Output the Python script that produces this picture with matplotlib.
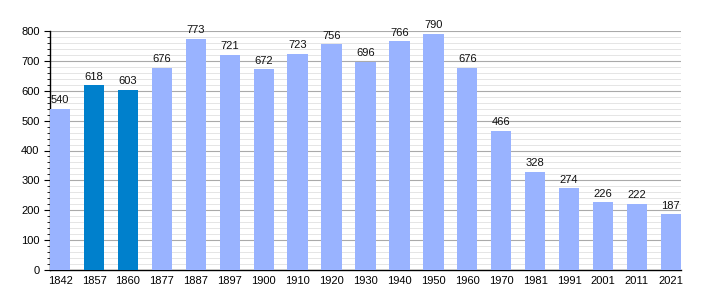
import matplotlib
matplotlib.use("Agg")
import matplotlib.pyplot as plt
from matplotlib.ticker import MultipleLocator

years = ["1842", "1857", "1860", "1877", "1887", "1897", "1900", "1910", "1920", "1930",
         "1940", "1950", "1960", "1970", "1981", "1991", "2001", "2011", "2021"]
population = [540, 618, 603, 676, 773, 721, 672, 723, 756, 696,
              766, 790, 676, 466, 328, 274, 226, 222, 187]
highlight = ["1857", "1860"]

light = "#99b3ff"
dark = "#0080cc"

plt.rcParams['font.family'] = ['Liberation Sans', 'DejaVu Sans']
fig = plt.figure(figsize=(7.1, 3.0), dpi=100)
ax = fig.add_axes([50/710, 30/300, 631/710, 239/300])

x = list(range(len(years)))
colors = [dark if y in highlight else light for y in years]
bars = ax.bar(x, population, width=0.6, color=colors, zorder=3)
for xi, v in zip(x, population):
    ax.text(xi, v + 12, str(v), ha="center", va="bottom", fontsize=8, color="#111111", zorder=4)

ax.set_xlim(-0.3, len(years) - 0.7)
ax.set_ylim(0, 800)
ax.set_xticks(x)
ax.set_xticklabels(years, fontsize=8)
ax.yaxis.set_major_locator(MultipleLocator(100))
ax.yaxis.set_minor_locator(MultipleLocator(20))
ax.tick_params(axis="y", which="major", labelsize=8, length=4, width=0.8, direction="out")
ax.tick_params(axis="y", which="minor", length=2, width=0.6, direction="out")
ax.tick_params(axis="x", length=0, pad=4)
ax.grid(axis="y", which="major", color="#aaaaaa", linewidth=0.8, zorder=0)
ax.grid(axis="y", which="minor", color="#e0e0e0", linewidth=0.6, zorder=0)
for s in ["top", "right"]:
    ax.spines[s].set_visible(False)
ax.spines["left"].set_color("black")
ax.spines["bottom"].set_color("black")
ax.spines["left"].set_linewidth(1.0)
ax.spines["bottom"].set_linewidth(1.0)

fig.savefig("out.png", dpi=100)
